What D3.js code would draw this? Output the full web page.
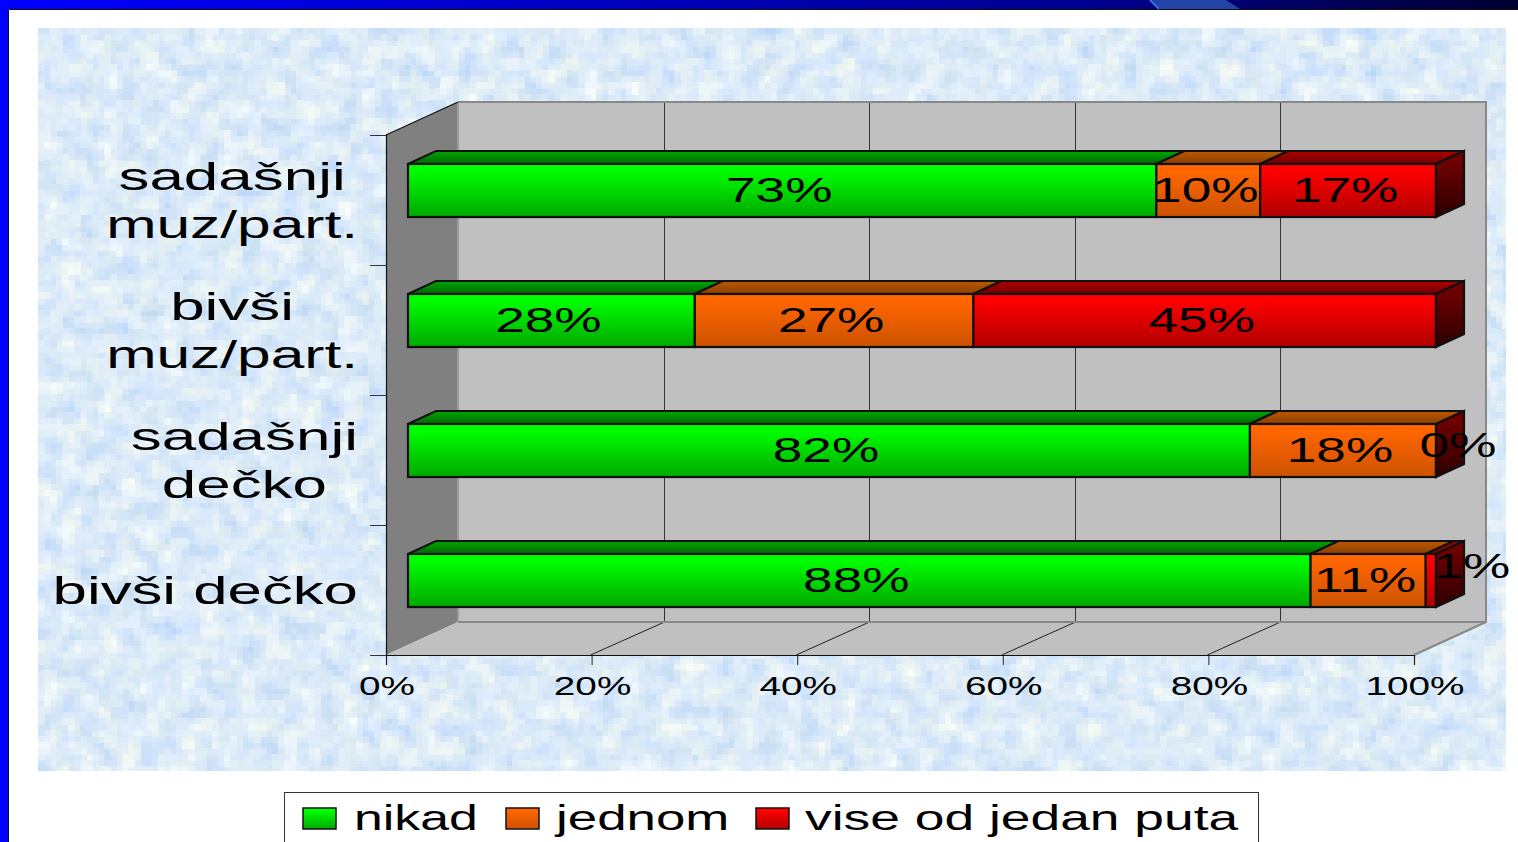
<!DOCTYPE html>
<html><head><meta charset="utf-8">
<script src="https://cdn.jsdelivr.net/npm/d3@7"></script>
<style>
html,body{margin:0;padding:0;background:#fff;overflow:hidden}
svg{display:block}
text{font-family:"Liberation Sans",Arial,sans-serif;fill:#000}
</style></head><body>
<svg id="c" width="1518" height="842"></svg>
<script>
const categories = ["sadašnji|muz/part.", "bivši|muz/part.", "sadašnji|dečko", "bivši dečko"];
const seriesNames = ["nikad", "jednom", "vise od jedan puta"];
const nikad  = [72.8, 27.9, 81.9, 87.8];
const jednom = [10.1, 27.1, 18.1, 11.2];
const vise   = [17.1, 45.0, 0, 1.0];
const nikadLabels  = ["73%", "28%", "82%", "88%"];
const jednomLabels = ["10%", "27%", "18%", "11%"];
const viseLabels   = ["17%", "45%", "0%", "1%"];
const xTicks = [0, 20, 40, 60, 80, 100];

const svg = d3.select("#c");
const defs = svg.append("defs");

const front = ["#00ff00", "#ff6600", "#ff0000"], frontEnd = ["#00a800", "#cc5200", "#b00000"];
const topA = ["#00a000", "#b85500", "#a80000"], topB = ["#006800", "#8a3e00", "#700000"];
function grad(id, a, b){
  const g = defs.append("linearGradient").attr("id", id).attr("x1",0).attr("y1",0).attr("x2",0).attr("y2",1);
  g.append("stop").attr("offset","12%").attr("stop-color",a);
  g.append("stop").attr("offset","100%").attr("stop-color",b);
}
seriesNames.forEach((_, i) => { grad("f"+i, front[i], frontEnd[i]); grad("t"+i, topA[i], topB[i]); });
grad("side", "#700000", "#2e0000");
const hdr = defs.append("linearGradient").attr("id","hdr");
[[0,"#0000ff"],[.5,"#0000b0"],[.72,"#000090"],[1,"#000030"]].forEach(s => hdr.append("stop").attr("offset",s[0]).attr("stop-color",s[1]));

// mottled paper texture of the panel
const fl = defs.append("filter").attr("id","paper").attr("filterUnits","userSpaceOnUse")
  .attr("x",38).attr("y",28).attr("width",1468).attr("height",743)
  .attr("color-interpolation-filters","sRGB");
fl.append("feTurbulence").attr("type","fractalNoise").attr("baseFrequency",0.05).attr("numOctaves",4).attr("seed",7).attr("result","n");
fl.append("feFlood").attr("x",41).attr("y",31).attr("width",1).attr("height",1).attr("flood-color","#000").attr("result","dot");
fl.append("feComposite").attr("in","dot").attr("in2","dot").attr("operator","over").attr("x",38).attr("y",28).attr("width",6).attr("height",6).attr("result","cell");
fl.append("feTile").attr("in","cell").attr("x",38).attr("y",28).attr("width",1468).attr("height",743).attr("result","grid");
fl.append("feComposite").attr("in","n").attr("in2","grid").attr("operator","in").attr("result","dots");
fl.append("feMorphology").attr("in","dots").attr("operator","dilate").attr("radius",3).attr("result","px");
fl.append("feColorMatrix").attr("in","px").attr("type","matrix").attr("values",
  "0.32 0 0 0 0.70  0.2 0 0 0 0.82  0 0.08 0 0 0.93  0 0 0 0 1");

// slide frame
svg.append("rect").attr("x",0).attr("y",0).attr("width",1518).attr("height",9).attr("fill","url(#hdr)");
svg.append("rect").attr("x",0).attr("y",0).attr("width",8).attr("height",842).attr("fill","#0000ff");
svg.append("path").attr("d","M8.5 842V9.5H1518").attr("fill","none").attr("stroke","#111").attr("stroke-width",1);
svg.append("path").attr("d","M1150 0H1226L1240 9H1160Z").attr("fill","#2244a8");
svg.append("path").attr("d","M1150 0L1159 9").attr("stroke","#3a6cf0").attr("stroke-width",2);
svg.append("rect").attr("x",38).attr("y",28).attr("width",1468).attr("height",743).attr("fill","#dceafb");
svg.append("rect").attr("x",38).attr("y",28).attr("width",1468).attr("height",743).attr("fill","#dceafb").attr("filter","url(#paper)");

// scales
const x = d3.scaleLinear().domain([0,100]).range([386,1414]);
const yTick = d3.scaleLinear().domain([0,4]).range([135,655]);
const y = d3.scaleBand().domain(categories).range([135,655]).paddingInner(0.592).paddingOuter(0.296);
const depth = {x:72, y:-33}, plane = {x:22, y:-9.5}, bar = {x:28, y:-13};
const yTop = yTick(0), yBot = yTick(4), xL = x(0), xR = x(100);

// walls
const P = pts => "M" + pts.map(p => p.join(",")).join("L") + "Z";
svg.append("path").attr("d",P([[xL,yTop],[xL+depth.x,yTop+depth.y],[xL+depth.x,yBot+depth.y],[xL,yBot]])).attr("fill","#808080");
svg.append("path").attr("d",P([[xL+depth.x,yTop+depth.y],[xR+depth.x,yTop+depth.y],[xR+depth.x,yBot+depth.y],[xL+depth.x,yBot+depth.y]])).attr("fill","#c0c0c0");
svg.append("path").attr("d",P([[xL,yBot],[xL+depth.x,yBot+depth.y],[xR+depth.x,yBot+depth.y],[xR,yBot]])).attr("fill","#c0c0c0");
// gridlines
xTicks.slice(1,-1).forEach(t => {
  const gx = Math.round(x(t)+depth.x)+.5;
  svg.append("path").attr("d",`M${gx} ${yTop+depth.y}V${yBot+depth.y}`).attr("stroke","#333").attr("stroke-width",1);
  svg.append("path").attr("d",`M${x(t)-1} ${yBot}L${gx} ${yBot+depth.y}`).attr("stroke","#222").attr("stroke-width",1);
});
// wall edges
svg.append("path").attr("d",`M${xL+depth.x} ${yTop+depth.y}H${xR+depth.x}V${yBot+depth.y}L${xR} ${yBot}M${xL+depth.x} ${yBot+depth.y}H${xR+depth.x}`)
  .attr("fill","none").attr("stroke","#888").attr("stroke-width",2);
svg.append("path").attr("d",`M${xL+depth.x} ${yTop+depth.y}V${yBot+depth.y}`).attr("stroke","#9a9a9a").attr("stroke-width",2);
svg.append("path").attr("d",`M${xL+depth.x} ${yTop+depth.y}L${xL} ${yTop}`).attr("stroke","#111").attr("stroke-width",1.2);

// axes
const SX_AXIS = 1.49;
const gx = svg.append("g").attr("transform",`translate(0,${yBot})`)
  .call(d3.axisBottom(x).tickValues(xTicks).tickSize(10).tickFormat(d => d + "%"));
gx.selectAll("path.domain").attr("stroke","#111").attr("stroke-width",1.2);
gx.selectAll("line").attr("stroke","#222");
gx.selectAll("text").attr("font-size",26).attr("font-family",null).attr("y",40).attr("dy",null).attr("fill","#000")
  .attr("transform",`translate(0.5,0) scale(${SX_AXIS},1)`);
const gy = svg.append("g").attr("transform",`translate(${xL},0)`)
  .call(d3.axisLeft(yTick).tickValues([0,1,2,3,4]).tickSize(16).tickFormat(""));
gy.selectAll("path.domain").attr("stroke","#111").attr("stroke-width",1.2);
gy.selectAll("line").attr("stroke","#333");

// stacked 3-D bars
const rows = categories.map((c,i) => ({cat:c, nikad:nikad[i], jednom:jednom[i], vise:vise[i]}));
const keys = ["nikad","jednom","vise"];
const labelSets = [nikadLabels, jednomLabels, viseLabels];
const stack = d3.stack().keys(keys)(rows);
const bw = y.bandwidth();
const barsG = svg.append("g").attr("stroke","#111").attr("stroke-width",2.2).attr("stroke-linejoin","miter");
const labelsG = svg.append("g");
const bx = v => x(v) + plane.x;
const by = c => y(c) + plane.y;
const SX_VAL = 1.52;
const labelShift = {"0%": [22,-6], "1%": [41,-15]};
stack.forEach((s, si) => {
  s.forEach((d, ri) => {
    const c = categories[ri], x0 = bx(d[0]), x1 = bx(d[1]), t = by(c);
    if (x1 - x0 > 0.01) {
      barsG.append("path").attr("d",P([[x0,t],[x0+bar.x,t+bar.y],[x1+bar.x,t+bar.y],[x1,t]])).attr("fill",`url(#t${si})`);
      barsG.append("rect").attr("x",x0).attr("y",t).attr("width",x1-x0).attr("height",bw).attr("fill",`url(#f${si})`);
    }
  });
});
categories.forEach(c => {
  const x1 = bx(100), t = by(c), b = t + bw;
  barsG.append("path").attr("d",P([[x1,t],[x1+bar.x,t+bar.y],[x1+bar.x,b+bar.y],[x1,b]])).attr("fill","url(#side)");
});
stack.forEach((s, si) => {
  s.forEach((d, ri) => {
    const c = categories[ri], lab = labelSets[si][ri];
    const off = labelShift[lab] || [-3,-1];
    const cx = (bx(d[0]) + bx(d[1]))/2 + off[0];
    labelsG.append("text").attr("text-anchor","middle").attr("font-size",35)
      .attr("transform",`translate(${cx},${by(c)+bw/2+12+off[1]}) scale(${SX_VAL},1)`).text(lab);
  });
});

// category labels (right aligned block, centred lines)
const catStretch = l => l === "muz/part." ? 1.59 : l === "bivši dečko" ? 1.625 : 1.63;
const LINE = 48, RIGHT = 358;
categories.forEach(c => {
  const lines = c.split("|");
  const g = svg.append("g");
  const cy = y(c) + bw/2 + 14;
  const nodes = lines.map(l => g.append("text").attr("font-size",38).attr("text-anchor","middle").text(l));
  const maxW = d3.max(nodes, (n,i) => n.node().getComputedTextLength() * catStretch(lines[i]));
  nodes.forEach((n,i) => {
    const ly = cy + (i - (lines.length-1)/2) * LINE;
    n.attr("transform",`translate(${RIGHT-maxW/2},${ly}) scale(${catStretch(lines[i])},1)`);
  });
});

// legend
svg.append("rect").attr("x",284.5).attr("y",792.5).attr("width",974).attr("height",70).attr("fill","#fff").attr("stroke","#333").attr("stroke-width",1);
const legX = [303, 506, 756], legT = [354, 556, 805], legS = [1.48, 1.51, 1.525];
seriesNames.forEach((n,i) => {
  svg.append("rect").attr("x",legX[i]).attr("y",808).attr("width",33).attr("height",21).attr("fill",`url(#f${i})`).attr("stroke","#111").attr("stroke-width",1.5);
  svg.append("text").attr("font-size",35).attr("transform",`translate(${legT[i]},830) scale(${legS[i]},1)`).text(n);
});
</script>
</body></html>
